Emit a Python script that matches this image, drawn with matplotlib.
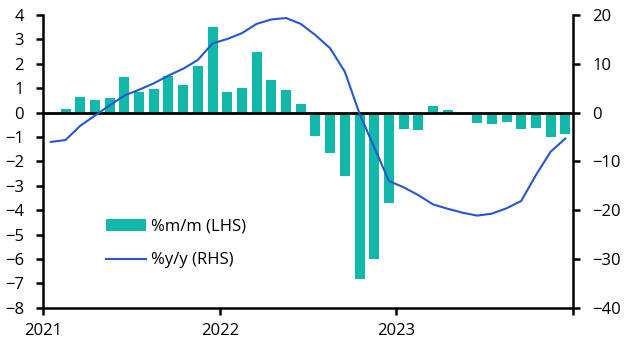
import numpy as np
import pandas as pd
import matplotlib
matplotlib.use("Agg")
import matplotlib.pyplot as plt

plt.rcParams['font.family'] = ['Open Sans', 'DejaVu Sans']

# monthly data, Jan 2021 - Dec 2023
months = pd.date_range('2021-01-01', periods=36, freq='MS')
mm = [np.nan, 0.14, 0.66, 0.50, 0.62, 1.48, 0.83, 0.95, 1.52, 1.15, 1.93, 3.51,
      0.83, 1.03, 2.49, 1.32, 0.91, 0.34, -0.95, -1.65, -2.61, -6.83, -5.98, -3.72,
      -0.65, -0.70, 0.26, 0.09, 0.0, -0.41, -0.46, -0.38, -0.66, -0.62, -0.99, -0.86]
yy = [-6.0, -5.6, -2.7, -0.6, 1.5, 3.5, 4.7, 6.0, 7.6, 9.0, 10.8, 14.2,
      15.1, 16.3, 18.2, 19.1, 19.4, 18.2, 15.9, 13.2, 8.4, -0.2, -7.1, -14.0,
      -15.3, -16.9, -18.8, -19.7, -20.5, -21.1, -20.7, -19.6, -18.1, -12.8, -8.0, -5.3]
year_labels = ['2021', '2022', '2023', '']

teal = '#12B8A9'
blue = '#2556D4'

x = np.arange(len(months)) + 0.5

fig = plt.figure(figsize=(6.3, 3.51), dpi=100)
ax = fig.add_axes([0.069, 0.123, 0.840, 0.834])
ax2 = ax.twinx()

bars = ax.bar(x, mm, width=0.68, color=teal, label='%m/m (LHS)', zorder=2)
ax.axhline(0, color='black', lw=2, zorder=3)
line, = ax2.plot(x, yy, color=blue, lw=1.5, label='%y/y (RHS)', zorder=4)

ax.set_xlim(0, 36)
ax.set_ylim(-8, 4)
ax.set_yticks(range(-8, 5))
ax2.set_ylim(-40, 20)
ax2.set_yticks(range(-40, 21, 10))
ax.set_xticks([0, 12, 24, 36])
ax.set_xticklabels(year_labels)

for a in (ax, ax2):
    a.spines['top'].set_visible(False)
    for s in ('left', 'right', 'bottom'):
        a.spines[s].set_linewidth(1.8)
    a.tick_params(width=1.8, length=5, labelsize=12, colors='black')
ax.tick_params(axis='y', pad=9)
ax2.tick_params(axis='y', pad=9)
ax.tick_params(axis='x', pad=6)
ax.spines['right'].set_visible(False)
ax2.spines['left'].set_visible(False)
ax2.spines['bottom'].set_visible(False)

ax.legend([bars, line], ['%m/m (LHS)', '%y/y (RHS)'], loc='upper left',
          bbox_to_anchor=(0.09, 0.355), frameon=False, fontsize=12,
          handlelength=2.4, handletextpad=0.3, labelspacing=1.05)

fig.savefig('out.png', dpi=100)
